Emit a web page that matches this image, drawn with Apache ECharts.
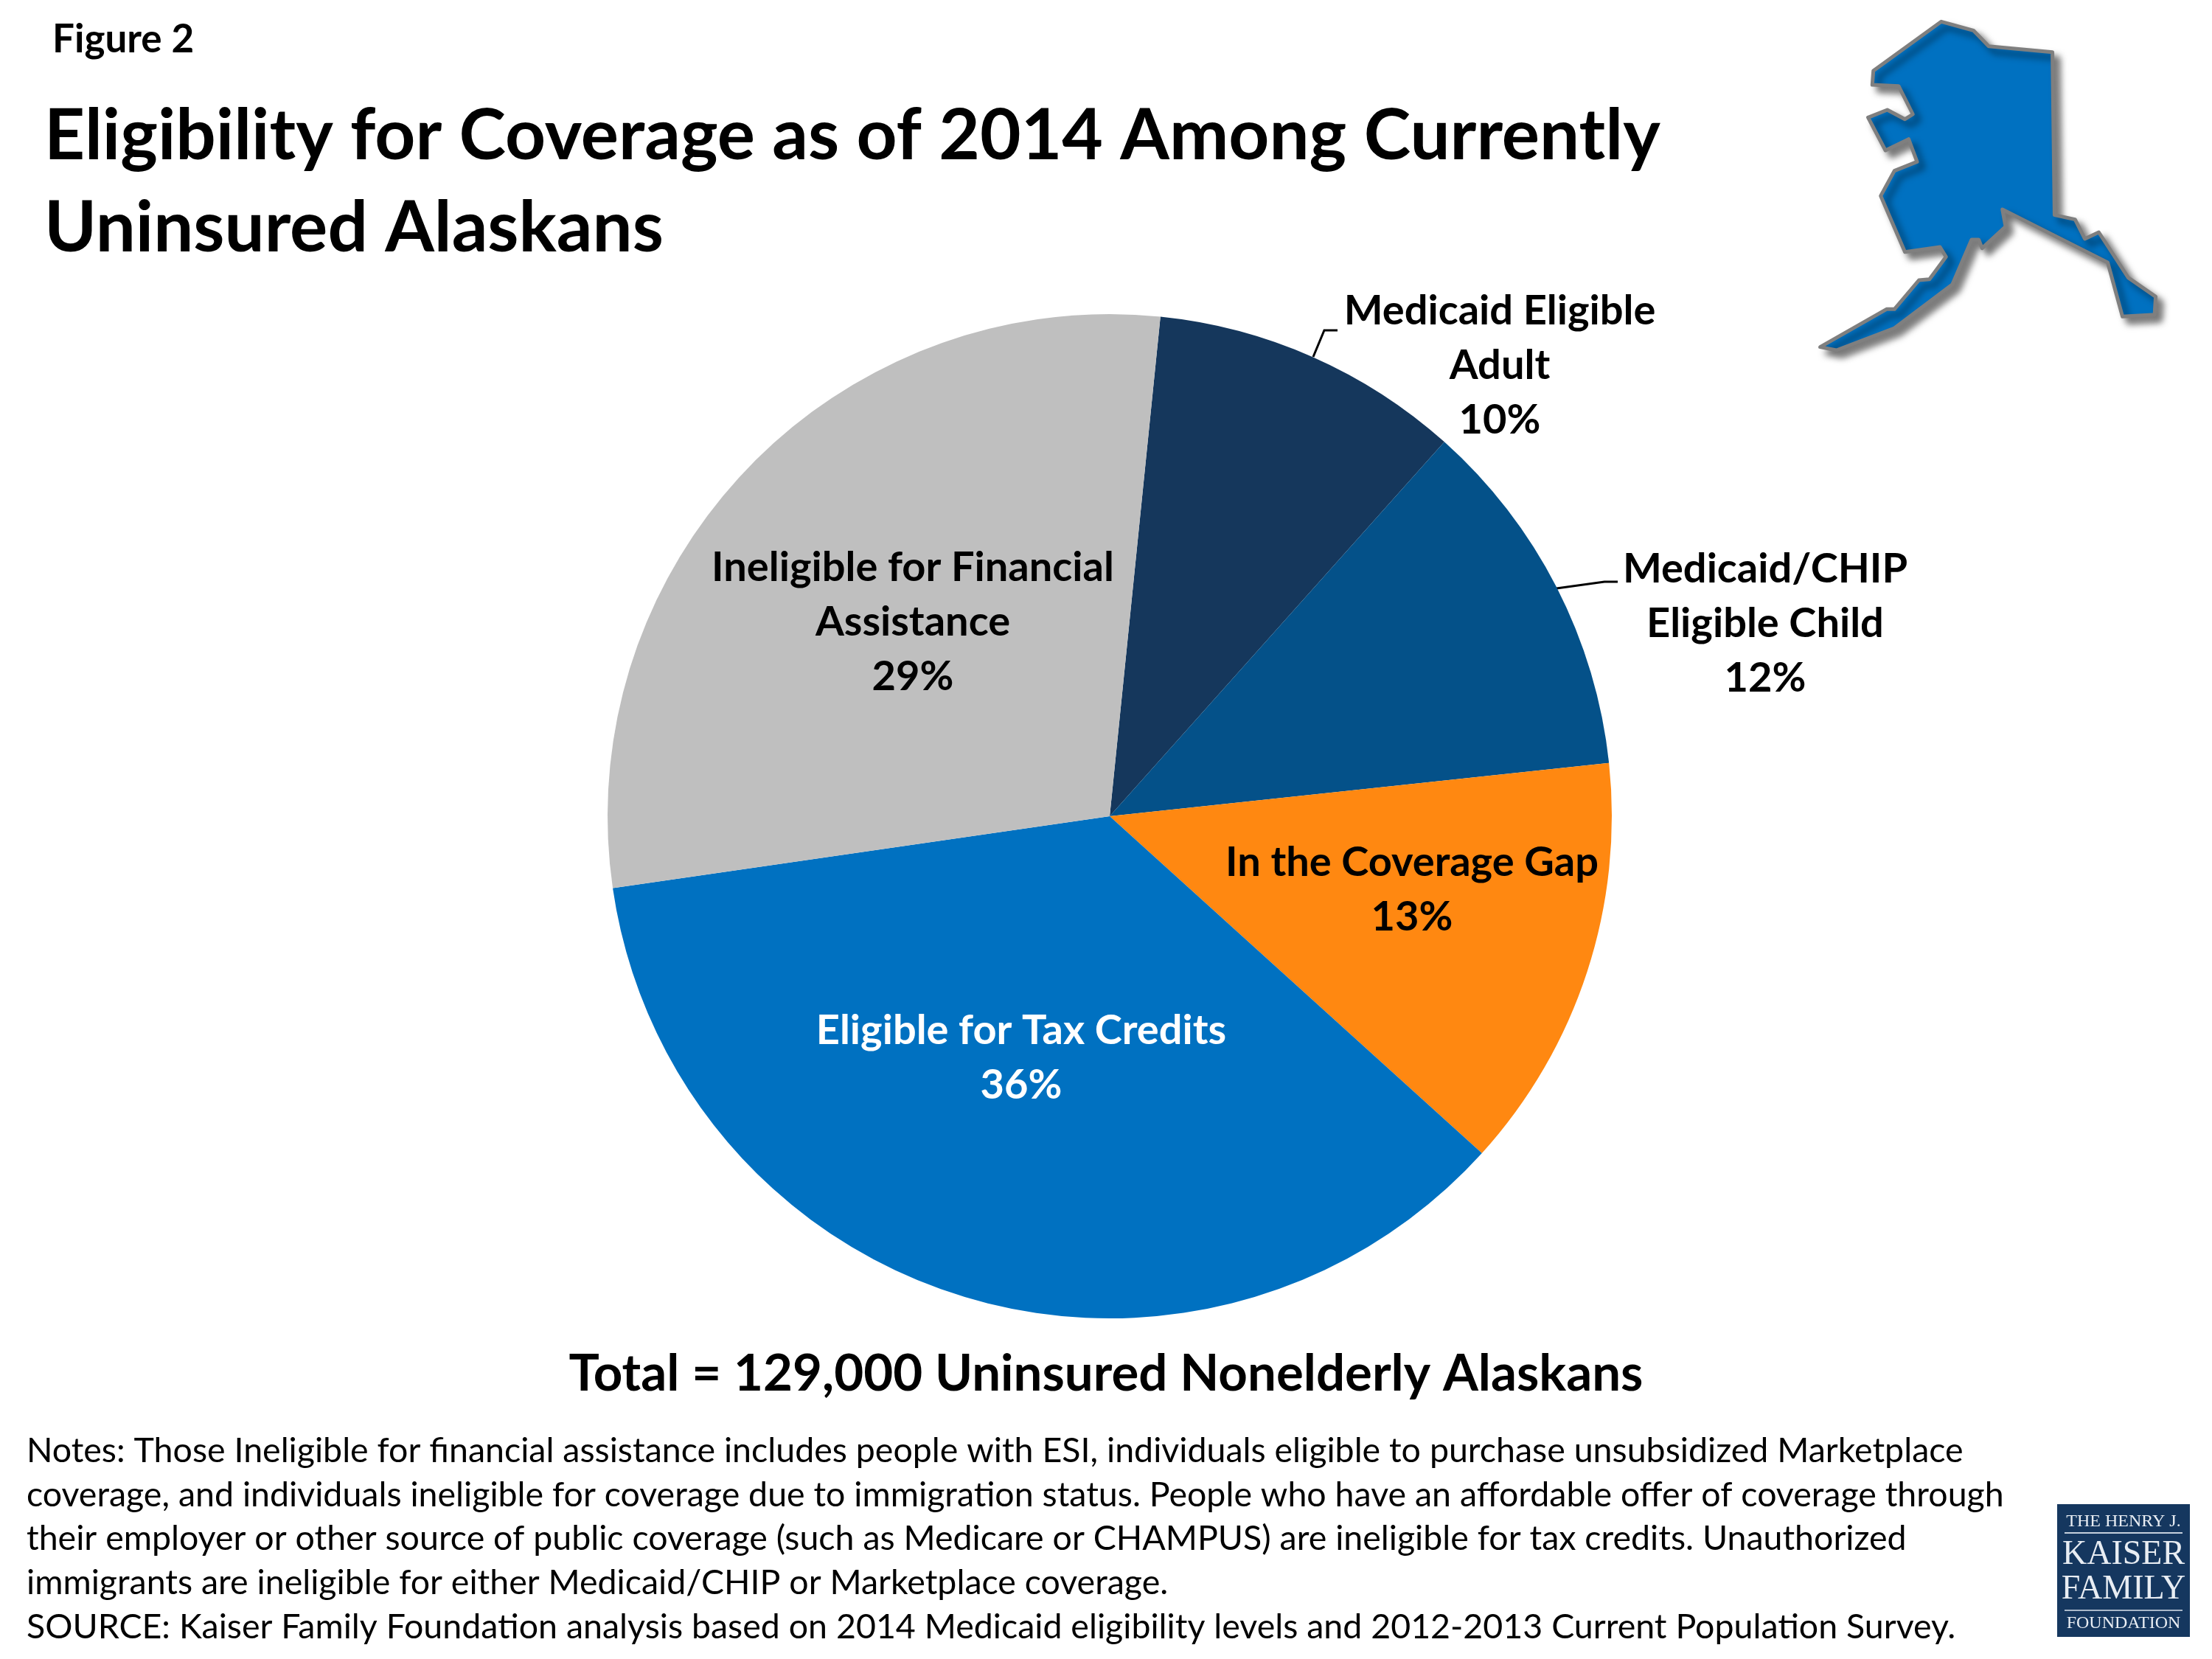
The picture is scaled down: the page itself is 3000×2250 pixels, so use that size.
<!DOCTYPE html>
<html>
<head>
<meta charset="utf-8">
<title>Eligibility for Coverage</title>
<script src="https://cdn.jsdelivr.net/npm/echarts@6/dist/echarts.min.js"></script>
<style>
html, body { margin: 0; padding: 0; background: #fff; }
#chart { width: 3000px; height: 2250px; }
</style>
</head>
<body>
<div id="chart"></div>
<script>
var figureLabel = "Figure 2";
var chartTitle = "Eligibility for Coverage as of 2014 Among Currently\nUninsured Alaskans";
var totalLabel = "Total = 129,000 Uninsured Nonelderly Alaskans";
var notesText = [
    "Notes: Those Ineligible for financial assistance includes people with ESI, individuals eligible to purchase unsubsidized Marketplace",
    "coverage, and individuals ineligible for coverage due to immigration status. People who have an affordable offer of coverage through",
    "their employer or other source of public coverage (such as Medicare or CHAMPUS) are ineligible for tax credits. Unauthorized",
    "immigrants are ineligible for either Medicaid/CHIP or Marketplace coverage.",
    "SOURCE: Kaiser Family Foundation analysis based on 2014 Medicaid eligibility levels and 2012-2013 Current Population Survey."
].join("\n");

// clockwise from the navy slice, percents as printed
var categories = ["Medicaid Eligible\nAdult", "Medicaid/CHIP\nEligible Child", "In the Coverage Gap", "Eligible for Tax Credits", "Ineligible for Financial\nAssistance"];
var sliceValues = [10.0, 11.7, 13.4, 36.0, 28.9];
var printedPercents = [10, 12, 13, 36, 29];

var sliceColors = ["#15375c", "#045189", "#ff8811", "#0071c1", "#bfbfbf"];
var labelColors = ["#000", "#000", "#000", "#fff", "#000"];
var labelSpots = [[2034, 496], [2394, 846], [1915, 1207], [1385, 1435], [1238, 844]];
var leaderLines = {
    0: [[1781, 484], [1796, 448], [1814, 448]],
    1: [[2111, 798], [2176, 789], [2194, 789]]
};

var FONT = "Lato";

var alaskaOutline = [[540,88],[662,124],[720,188],[962,212],[970,875],[1048,893],[1085,972],[1138,945],[1250,1130],[1354,1207],[1350,1280],[1228,1288],[1172,1068],[772,852],[784,922],[695,1010],[682,975],[655,975],[582,1157],[362,1335],[142,1425],[80,1412],[332,1258],[362,1258],[455,1140],[495,1136],[558,1045],[535,1005],[402,1025],[310,797],[362,695],[448,658],[416,566],[328,612],[262,478],[335,447],[402,485],[432,465],[378,350],[278,345],[282,288]];
var alaskaPoints = alaskaOutline.map(function(p) {
    return [2440 + p[0] / 2.8, p[1] / 3];
});

var logoText = function(text, y, size) {
    return {
        type: "text",
        x: 2880,
        y: y,
        style: {
            text: text,
            font: size + "px 'Liberation Serif'",
            fill: "#e8edf3",
            align: "center",
            verticalAlign: "middle"
        }
    };
};

var sliceData = categories.map(function(name, i) {
    var outside = leaderLines[i] != null;
    return {
        name: name,
        value: sliceValues[i],
        itemStyle: { color: sliceColors[i] },
        label: { position: outside ? "outside" : "inside", color: labelColors[i] },
        labelLine: { show: outside }
    };
});

var chart = echarts.init(document.getElementById("chart"), null, { renderer: "canvas" });

var option = {
    backgroundColor: "#fff",
    animation: false,
    title: [
        {
            text: figureLabel, left: 66, top: 22,
            textStyle: { fontFamily: FONT, fontSize: 53, fontWeight: "bold", color: "#000" }
        },
        {
            text: chartTitle, left: 55, top: 118,
            textStyle: { fontFamily: FONT, fontSize: 96, fontWeight: "bold", color: "#000", lineHeight: 125 }
        },
        {
            text: totalLabel, left: 1495, top: 1824, textAlign: "center",
            textStyle: { fontFamily: FONT, fontSize: 69, fontWeight: "bold", color: "#000" }
        },
        {
            text: notesText, left: 31, top: 1933,
            textStyle: { fontFamily: FONT, fontSize: 46.5, fontWeight: "normal", color: "#000", lineHeight: 59.7 }
        }
    ],
    series: [{
        type: "pie",
        center: [1505, 1107],
        radius: [0, 681],
        startAngle: 84.2,
        clockwise: true,
        avoidLabelOverlap: false,
        data: sliceData,
        label: {
            fontFamily: FONT,
            fontSize: 56,
            fontWeight: "bold",
            lineHeight: 73.6,
            align: "center",
            formatter: function(p) {
                return p.name + "\n" + printedPercents[p.dataIndex] + "%";
            }
        },
        labelLine: { lineStyle: { color: "#000", width: 3 } },
        labelLayout: function(p) {
            var spot = labelSpots[p.dataIndex];
            var layout = { x: spot[0], y: spot[1], align: "center", verticalAlign: "middle" };
            if (leaderLines[p.dataIndex]) {
                layout.labelLinePoints = leaderLines[p.dataIndex];
            }
            return layout;
        }
    }],
    graphic: [
        {
            type: "polygon",
            shape: { points: alaskaPoints },
            style: {
                fill: "#0071c1",
                stroke: "#7f7f7f",
                lineWidth: 5,
                lineJoin: "round",
                shadowColor: "rgba(0,0,0,0.5)",
                shadowBlur: 10,
                shadowOffsetX: 8,
                shadowOffsetY: 8
            }
        },
        { type: "rect", shape: { x: 2790, y: 2040, width: 180, height: 180 }, style: { fill: "#15375f" } },
        logoText("THE HENRY J.", 2064, 24),
        { type: "rect", shape: { x: 2800, y: 2078, width: 160, height: 2 }, style: { fill: "#c5d0dc" } },
        logoText("KAISER", 2109, 46),
        logoText("FAMILY", 2156, 46),
        { type: "rect", shape: { x: 2800, y: 2183, width: 160, height: 2 }, style: { fill: "#a9b8c9" } },
        logoText("FOUNDATION", 2202, 24)
    ]
};

chart.setOption(option);
</script>
</body>
</html>
